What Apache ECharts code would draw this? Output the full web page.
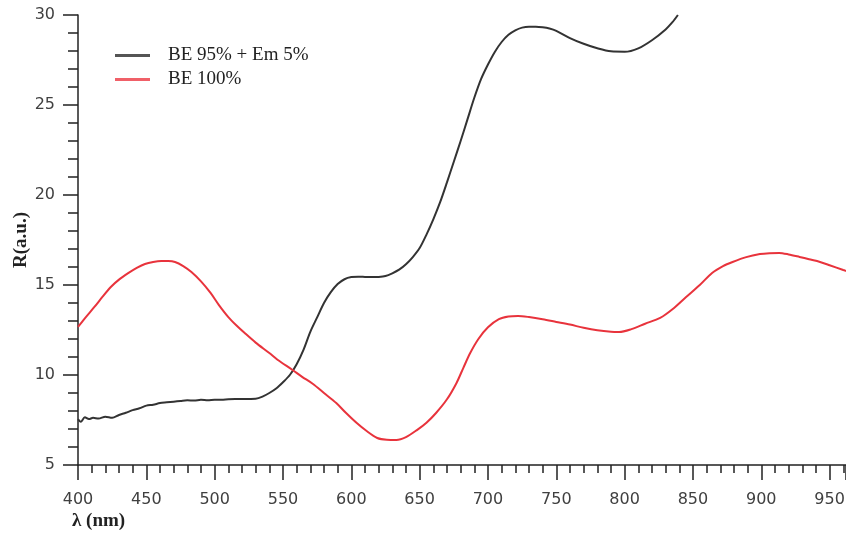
<!DOCTYPE html>
<html>
<head>
<meta charset="utf-8">
<script src="https://cdn.jsdelivr.net/npm/echarts@6/dist/echarts.min.js"></script>
<style>
  html, body { margin: 0; padding: 0; background: #fff; }
  #chart { width: 846px; height: 536px; }
</style>
</head>
<body>
<div id="chart"></div>
<script>
// Reflectance spectra: wavelength (nm) and reflectance (a.u.)
const seriesNames = ['BE 95% + Em 5%', 'BE 100%'];

const mixWavelength = [400,402,405,408,411,415,420,425,430,435,440,445,450,455,460,465,470,475,480,485,490,495,500,505,510,515,520,525,530,535,540,545,550,555,560,565,570,575,580,585,590,595,600,605,610,615,620,625,630,635,640,645,650,655,660,665,670,675,680,685,690,695,700,705,710,715,720,725,730,735,740,745,750,760,770,780,790,800,810,820,830,835,839];
const mixReflectance = [7.55,7.4,7.65,7.55,7.62,7.58,7.68,7.62,7.78,7.9,8.05,8.15,8.3,8.35,8.44,8.48,8.52,8.56,8.6,8.58,8.62,8.6,8.63,8.62,8.65,8.66,8.66,8.67,8.68,8.8,9.0,9.25,9.6,10.0,10.6,11.4,12.4,13.2,14.0,14.6,15.05,15.32,15.44,15.46,15.45,15.44,15.45,15.5,15.65,15.85,16.15,16.55,17.05,17.8,18.65,19.6,20.7,21.85,23.0,24.2,25.4,26.45,27.25,27.95,28.5,28.9,29.15,29.3,29.35,29.35,29.32,29.25,29.12,28.72,28.4,28.15,27.98,27.96,28.15,28.6,29.2,29.6,30.0];

const pureWavelength = [400,405,412,418,424,430,437,443,449,455,461,466,471,477,483,490,497,503,510,516,522,530,540,546,557,564,572,580,589,596,604,611,619,626,633,640,648,655,662,670,677,682,687,693,700,708,715,722,730,740,750,760,770,780,790,796,805,815,826,835,845,855,864,872,879,889,899,906,913,920,928,935,943,950,960,962];
const pureReflectance = [12.67,13.15,13.78,14.35,14.89,15.3,15.67,15.95,16.17,16.28,16.33,16.33,16.28,16.05,15.72,15.2,14.56,13.9,13.22,12.75,12.33,11.8,11.22,10.85,10.28,9.9,9.5,9.0,8.44,7.9,7.33,6.9,6.5,6.4,6.39,6.55,6.94,7.35,7.89,8.65,9.56,10.4,11.22,12.0,12.65,13.1,13.25,13.28,13.22,13.1,12.95,12.8,12.62,12.48,12.4,12.39,12.55,12.85,13.17,13.65,14.33,15.0,15.67,16.05,16.28,16.55,16.72,16.77,16.78,16.7,16.56,16.43,16.28,16.1,15.83,15.78];

const pairs = (xs, ys) => xs.map((x, i) => [x, ys[i]]);

const chart = echarts.init(document.getElementById('chart'));
const tickFont = { fontFamily: 'DejaVu Sans', fontSize: 16, color: '#404040' };
const axisInk = { color: '#222', width: 1.5 };

chart.setOption({
  animation: false,
  backgroundColor: '#fff',
  grid: { left: 78, right: 0, top: 15, bottom: 71, containLabel: false, outerBoundsMode: 'none' },
  legend: {
    orient: 'vertical',
    left: 110,
    top: 41,
    itemGap: 5,
    itemWidth: 35,
    itemHeight: 3,
    icon: 'rect',
    textStyle: { fontFamily: 'Liberation Serif', fontSize: 19, color: '#222', padding: [0, 0, 0, 13] },
    data: seriesNames
  },
  xAxis: {
    type: 'value',
    min: 400,
    max: 962,
    interval: 50,
    name: 'λ (nm)',
    nameLocation: 'start',
    nameGap: 6,
    nameMoveOverlap: false,
    nameTextStyle: {
      fontFamily: 'Liberation Serif', fontSize: 19, fontWeight: 'bold', color: '#222',
      align: 'left', verticalAlign: 'top', padding: [47, 0, 0, 0]
    },
    axisLine: { onZero: false, lineStyle: axisInk },
    axisTick: { length: 15, lineStyle: axisInk },
    minorTick: { show: true, splitNumber: 5, length: 8, lineStyle: axisInk },
    axisLabel: Object.assign({ margin: 27, showMaxLabel: false }, tickFont),
    splitLine: { show: false }
  },
  yAxis: {
    type: 'value',
    min: 5,
    max: 30,
    interval: 5,
    name: 'R(a.u.)',
    nameLocation: 'middle',
    nameGap: 47,
    nameMoveOverlap: false,
    nameTextStyle: { fontFamily: 'Liberation Serif', fontSize: 19, fontWeight: 'bold', color: '#222' },
    axisLine: { show: true, lineStyle: axisInk },
    axisTick: { show: true, length: 15, lineStyle: axisInk },
    minorTick: { show: true, splitNumber: 5, length: 10, lineStyle: axisInk },
    axisLabel: Object.assign({ margin: 23 }, tickFont),
    splitLine: { show: false }
  },
  series: [
    {
      name: seriesNames[0],
      type: 'line',
      data: pairs(mixWavelength, mixReflectance),
      showSymbol: false,
      smooth: 0.3,
      lineStyle: { color: '#333', width: 2 },
      itemStyle: { color: '#555' }
    },
    {
      name: seriesNames[1],
      type: 'line',
      data: pairs(pureWavelength, pureReflectance),
      showSymbol: false,
      smooth: 0.3,
      lineStyle: { color: '#e8333c', width: 2 },
      itemStyle: { color: '#f06068' }
    }
  ]
});
</script>
</body>
</html>
